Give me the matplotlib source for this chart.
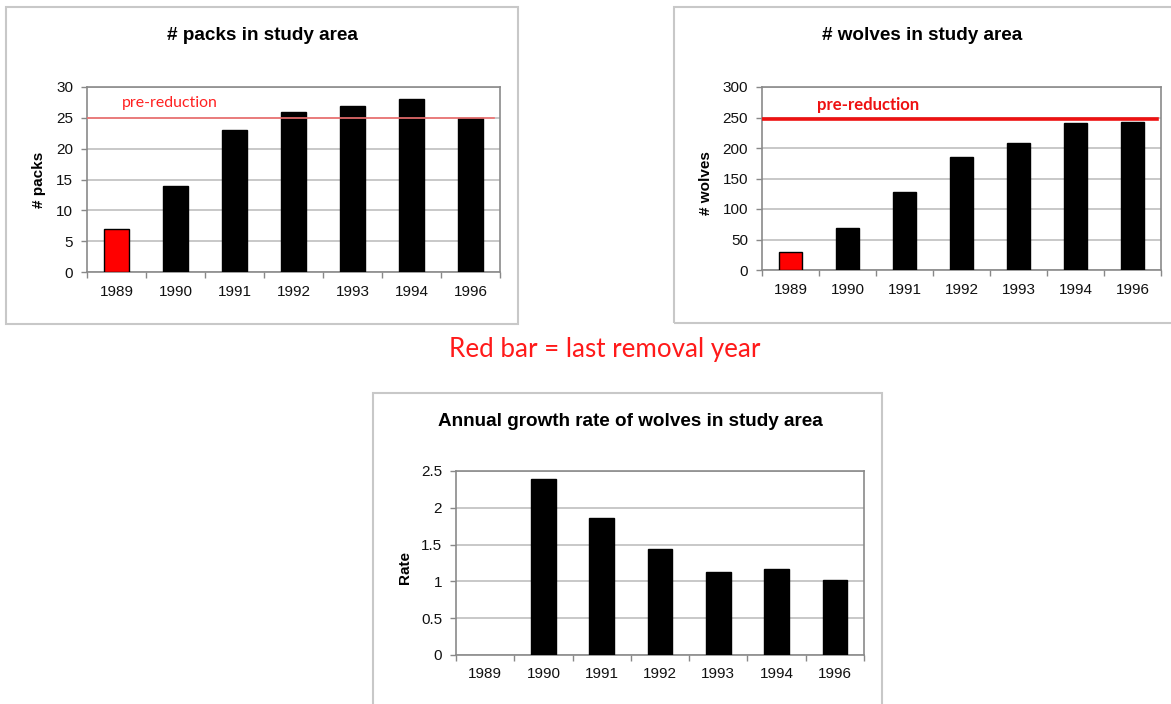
import numpy as np
import matplotlib
matplotlib.use("Agg")
import matplotlib.pyplot as plt
from matplotlib.patches import Rectangle

years = ["1989", "1990", "1991", "1992", "1993", "1994", "1996"]
packs = [7, 14, 23, 26, 27, 28, 25]
packs_pre = 25
wolves = [29, 69, 128, 186, 208, 241, 243]
wolves_pre = 247
rates = [np.nan, 2.39, 1.86, 1.44, 1.13, 1.17, 1.02]
bar_colors = ["#ff0000", "black", "black", "black", "black", "black", "black"]

W, H = 1171, 704
fig = plt.figure(figsize=(W / 100, H / 100), dpi=100)
FONT = "Liberation Sans"


def fx(x):
    return x / W


def fy(y):
    return 1 - y / H


def frame(x0, y0, x1, y1):
    fig.patches.append(Rectangle((fx(x0), fy(y1)), fx(x1 - x0), (y1 - y0) / H,
                                 transform=fig.transFigure, fill=False,
                                 edgecolor="#c8c8c8", linewidth=1.5))


def make_ax(x0, y0, x1, y1, vals, ymax, step, colors, fmt=None):
    ax = fig.add_axes([fx(x0), fy(y1), fx(x1 - x0), (y1 - y0) / H])
    x = np.arange(len(years))
    ax.bar(x, vals, width=0.42, color=colors, edgecolor="black", linewidth=1, zorder=3)
    ax.set_xlim(-0.5, len(years) - 0.5)
    ax.set_ylim(0, ymax)
    ticks = np.arange(0, ymax + step / 2, step)
    ax.set_yticks(ticks)
    if fmt:
        ax.set_yticklabels([fmt(t) for t in ticks])
    ax.set_xticks(x)
    ax.set_xticklabels(years)
    ax.set_xticks(np.arange(-0.5, len(years)), minor=True)
    ax.tick_params(axis="x", which="major", length=0, pad=9)
    ax.tick_params(axis="x", which="minor", length=4, color="#888888", width=1)
    ax.tick_params(axis="y", length=4, color="#888888", width=1, pad=6)
    for lab in ax.get_xticklabels() + ax.get_yticklabels():
        lab.set_fontfamily(FONT)
        lab.set_fontsize(11)
        lab.set_color("#111111")
    ax.yaxis.grid(True, color="#c4c4c4", linewidth=1.3, zorder=0)
    ax.set_axisbelow(True)
    for s in ax.spines.values():
        s.set_color("#8a8a8a")
        s.set_linewidth(1.2)
    return ax


# Panel 1
frame(6, 7, 518, 324)
fig.text(fx(262), fy(35), "# packs in study area", ha="center", va="center",
         fontfamily=FONT, fontweight="bold", fontsize=13.6)
fig.text(fx(39), fy(180), "# packs", ha="center", va="center", rotation=90,
         fontfamily=FONT, fontweight="bold", fontsize=11)
ax1 = make_ax(87, 87, 500, 272, packs, 30, 5, bar_colors)
ax1.axhline(packs_pre, xmin=0, xmax=0.985, color="#f07070", linewidth=1.2, zorder=4)
ax1.text(0.085, 0.915, "pre-reduction", transform=ax1.transAxes, color="#ff2020",
         fontfamily="Lato", fontsize=11.4, va="center", ha="left")

# Panel 2
frame(674, 7, 1175, 323)
fig.text(fx(922), fy(35), "# wolves in study area", ha="center", va="center",
         fontfamily=FONT, fontweight="bold", fontsize=13.6)
fig.text(fx(706), fy(183), "# wolves", ha="center", va="center", rotation=90,
         fontfamily=FONT, fontweight="bold", fontsize=11)
ax2 = make_ax(762, 87, 1161, 270, wolves, 300, 50, bar_colors)
ax2.axhline(wolves_pre, xmin=0.003, xmax=0.99, color="#ee1111", linewidth=2.6, zorder=4)
ax2.text(0.138, 0.9, "pre-reduction", transform=ax2.transAxes, color="#ee1111",
         fontfamily="Lato", fontweight="bold", fontsize=12.1, va="center", ha="left")

# Note
fig.text(fx(605), fy(349), "Red bar = last removal year", ha="center", va="center",
         color="#ff1a1a", fontfamily="Lato", fontsize=18.7)

# Panel 3
frame(373, 393, 882, 710)
fig.text(fx(630), fy(421), "Annual growth rate of wolves in study area", ha="center",
         va="center", fontfamily=FONT, fontweight="bold", fontsize=13.6)
fig.text(fx(405), fy(567), "Rate", ha="center", va="center", rotation=90,
         fontfamily=FONT, fontweight="bold", fontsize=11)
ax3 = make_ax(456, 471, 864, 655, rates, 2.5, 0.5, "black",
              fmt=lambda t: ("%g" % t))

fig.savefig("out.png", dpi=100)
